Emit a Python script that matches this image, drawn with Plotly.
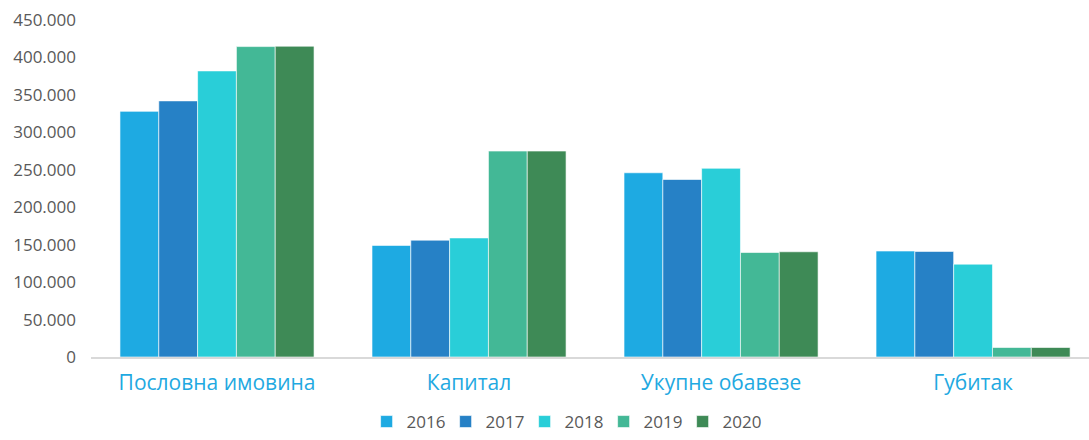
import plotly.graph_objects as go

categories = ["Пословна имовина", "Капитал", "Укупне обавезе", "Губитак"]
years = ["2016", "2017", "2018", "2019", "2020"]
values = {
    "2016": [328000, 149000, 246000, 141500],
    "2017": [342000, 156000, 237000, 141000],
    "2018": [382000, 159000, 252000, 124000],
    "2019": [414500, 275000, 139500, 12700],
    "2020": [415000, 275000, 140500, 12700],
}
colors = ["#1EAAE2", "#2681C6", "#29CED8", "#43B896", "#3E8A56"]
tickvals = [0, 50000, 100000, 150000, 200000, 250000, 300000, 350000, 400000, 450000]

fig = go.Figure()
for y, c in zip(years, colors):
    fig.add_trace(go.Bar(
        x=categories, y=values[y], name=y,
        marker=dict(color=c, line=dict(color="rgba(255,255,255,0.6)", width=1)),
    ))

fig.update_layout(
    width=1089, height=440,
    margin=dict(l=91, r=0, t=20, b=83, autoexpand=False),
    plot_bgcolor="white", paper_bgcolor="white",
    barmode="group", bargap=0.23, bargroupgap=0,
    separators=",.",
    font=dict(family="Open Sans, Liberation Sans, sans-serif", color="#595959"),
    xaxis=dict(
        range=[-0.5, 3.46],
        showline=True, linecolor="#D9D9D9", linewidth=1.5,
        tickfont=dict(size=21, color="#1FA9E1"), ticks="", ticklabelstandoff=6,
    ),
    yaxis=dict(
        range=[0, 450000], tickvals=tickvals, tickformat=",d",
        showgrid=False, zeroline=False, showline=False,
        tickfont=dict(size=17, color="#595959"), ticklabelstandoff=14,
    ),
    legend=dict(
        orientation="h", x=0.518, xanchor="center", xref="container",
        yref="container", y=0.0, yanchor="bottom",
        font=dict(size=17, color="#595959"), itemwidth=30, entrywidth=34,
        traceorder="normal",
    ),
)

fig.write_html(
    "out.html",
    config={"displayModeBar": False},
    post_script="document.body.style.margin='0';document.body.style.overflow='hidden';",
)
